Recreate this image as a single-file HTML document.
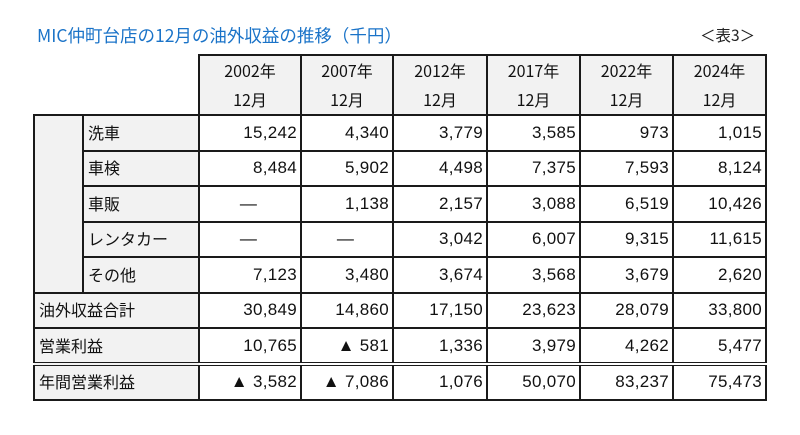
<!DOCTYPE html>
<html><head><meta charset="utf-8"><style>
body{margin:0;width:800px;height:435px;background:#fff;position:relative;font-family:"Liberation Sans","Noto Sans CJK JP",sans-serif;overflow:hidden}
.title{position:absolute;left:37px;top:23px;font-size:17.5px;color:#1a73c8;font-family:"Noto Sans CJK JP",sans-serif;white-space:nowrap}
.note{position:absolute;left:700px;top:24px;font-size:15.5px;color:#222;font-family:"Noto Sans CJK JP",sans-serif}
table{position:absolute;left:33px;top:54px;border-collapse:collapse;table-layout:fixed;font-size:17px;color:#111;font-family:"Liberation Sans","Noto Sans CJK JP",sans-serif}
td{border:2px solid #1a1a1a;padding:0;height:34px;box-sizing:border-box;line-height:20px}
td.l{background:#f2f2f2;padding-left:4px;font-family:"Noto Sans CJK JP",sans-serif;font-size:16px;padding-bottom:2px}
td.v{text-align:right;padding-right:3px;background:#fff;letter-spacing:0.3px}
td.h{background:#f2f2f2;text-align:center;line-height:29px;height:60px;font-family:"Noto Sans CJK JP",sans-serif;font-size:16px}
td.e{border:none}
tr.dbl td{border-bottom:4px double #1a1a1a}
</style></head><body>
<div class="title">MIC仲町台店の12月の油外収益の推移（千円）</div>
<div class="note">＜表3＞</div>
<table>
<colgroup><col style="width:49px"><col style="width:116px"><col style="width:102px"><col style="width:92px"><col style="width:94px"><col style="width:93px"><col style="width:93px"><col style="width:93px"></colgroup>
<tr><td class="e" colspan="2"></td>
<td class="h">2002年<br>12月</td>
<td class="h">2007年<br>12月</td>
<td class="h">2012年<br>12月</td>
<td class="h">2017年<br>12月</td>
<td class="h">2022年<br>12月</td>
<td class="h">2024年<br>12月</td></tr>
<tr style="height:35.5px"><td class="l" rowspan="5"></td><td class="l">洗車</td><td class="v">15,242</td><td class="v">4,340</td><td class="v">3,779</td><td class="v">3,585</td><td class="v">973</td><td class="v">1,015</td></tr>
<tr style="height:35.5px"><td class="l">車検</td><td class="v">8,484</td><td class="v">5,902</td><td class="v">4,498</td><td class="v">7,375</td><td class="v">7,593</td><td class="v">8,124</td></tr>
<tr style="height:35.5px"><td class="l">車販</td><td class="v" style="text-align:center">—</td><td class="v">1,138</td><td class="v">2,157</td><td class="v">3,088</td><td class="v">6,519</td><td class="v">10,426</td></tr>
<tr style="height:35.5px"><td class="l">レンタカー</td><td class="v" style="text-align:center">—</td><td class="v" style="text-align:center">—</td><td class="v">3,042</td><td class="v">6,007</td><td class="v">9,315</td><td class="v">11,615</td></tr>
<tr style="height:35.5px"><td class="l">その他</td><td class="v">7,123</td><td class="v">3,480</td><td class="v">3,674</td><td class="v">3,568</td><td class="v">3,679</td><td class="v">2,620</td></tr>
<tr style="height:35.5px"><td class="l" colspan="2">油外収益合計</td><td class="v">30,849</td><td class="v">14,860</td><td class="v">17,150</td><td class="v">23,623</td><td class="v">28,079</td><td class="v">33,800</td></tr>
<tr class="dbl" style="height:36px"><td class="l" colspan="2">営業利益</td><td class="v">10,765</td><td class="v">▲ 581</td><td class="v">1,336</td><td class="v">3,979</td><td class="v">4,262</td><td class="v">5,477</td></tr>
<tr style="height:35.5px"><td class="l" colspan="2">年間営業利益</td><td class="v">▲ 3,582</td><td class="v">▲ 7,086</td><td class="v">1,076</td><td class="v">50,070</td><td class="v">83,237</td><td class="v">75,473</td></tr>
</table>
</body></html>
